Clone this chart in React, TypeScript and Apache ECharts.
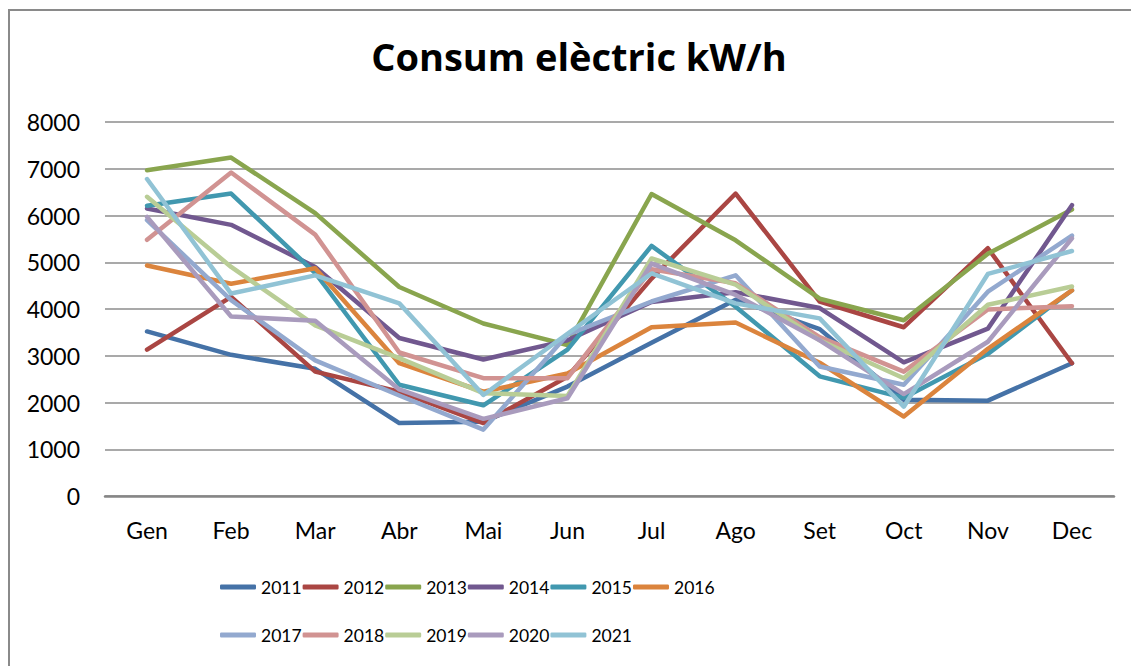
import React, { useEffect, useRef } from "react";
import * as echarts from "echarts";

const months = ["Gen", "Feb", "Mar", "Abr", "Mai", "Jun", "Jul", "Ago", "Set", "Oct", "Nov", "Dec"];
const years = ["2011", "2012", "2013", "2014", "2015", "2016", "2017", "2018", "2019", "2020", "2021"];
const colors = ["#4572A7", "#AA4643", "#89A54E", "#71588F", "#4198AF", "#DB843D", "#93A9CF", "#D19392", "#B9CD96", "#A99BBD", "#91C3D5"];

const v2011 = [3520, 3020, 2720, 1560, 1590, 2340, 3280, 4200, 3570, 2060, 2040, 2840];
const v2012 = [3130, 4260, 2660, 2230, 1560, 2550, 4650, 6470, 4160, 3610, 5300, 2840];
const v2013 = [6970, 7240, 6050, 4470, 3690, 3230, 6460, 5470, 4220, 3760, 5180, 6130];
const v2014 = [6150, 5800, 4900, 3380, 2920, 3330, 4150, 4360, 4020, 2860, 3580, 6220];
const v2015 = [6210, 6470, 4770, 2380, 1940, 3130, 5350, 4050, 2560, 2100, 3040, 4400];
const v2016 = [4930, 4540, 4870, 2840, 2230, 2620, 3610, 3710, 2850, 1700, 3150, 4400];
const v2017 = [5900, 4190, 2900, 2150, 1420, 3450, 4160, 4720, 2770, 2380, 4370, 5570];
const v2018 = [5480, 6920, 5590, 3070, 2520, 2520, 4850, 4550, 3400, 2660, 3990, 4060];
const v2019 = [6400, 4900, 3650, 2950, 2200, 2140, 5080, 4520, 3330, 2520, 4090, 4480];
const v2020 = [5970, 3840, 3750, 2280, 1650, 2090, 4970, 4300, 3330, 2180, 3300, 5510];
const v2021 = [6780, 4330, 4720, 4120, 2160, 3470, 4760, 4120, 3800, 1910, 4750, 5240];

const allValues = [v2011, v2012, v2013, v2014, v2015, v2016, v2017, v2018, v2019, v2020, v2021];

export default function App() {
  const ref = useRef<HTMLDivElement>(null);
  useEffect(() => {
    if (!ref.current) return;
    const chart = echarts.init(ref.current, undefined, { renderer: "svg" });
    const legendBase = {
      left: 215,
      itemWidth: 36,
      itemHeight: 5,
      itemGap: 1,
      icon: "roundRect",
      textStyle: { fontFamily: "Lato", fontSize: 17.5, color: "#000" },
    };
    chart.setOption({
      animation: false,
      backgroundColor: "#fff",
      color: colors,
      title: {
        text: "Consum elèctric kW/h",
        left: 574,
        top: 32,
        textAlign: "center",
        textStyle: { fontFamily: "'Open Sans'", fontWeight: "bold", fontSize: 38, color: "#000" },
      },
      graphic: [
        {
          type: "rect",
          shape: { x: 9, y: 10, width: 1200, height: 800 },
          style: { fill: "none", stroke: "#8a8a8a", lineWidth: 2 },
          silent: true,
        },
      ],
      legend: [
        { ...legendBase, data: years.slice(0, 6), top: 573 },
        { ...legendBase, data: years.slice(6), top: 621 },
      ],
      grid: { left: 105, right: 17, top: 122, bottom: 170, containLabel: false },
      xAxis: {
        type: "category",
        data: months,
        boundaryGap: true,
        axisLine: { lineStyle: { color: "#868686", width: 2.5 } },
        axisTick: { show: false },
        axisLabel: { fontFamily: "Lato", fontSize: 23, color: "#000", margin: 22 },
      },
      yAxis: {
        type: "value",
        min: 0,
        max: 8000,
        interval: 1000,
        axisLine: { show: false },
        axisTick: { show: false },
        splitLine: { lineStyle: { color: "#8c8c8c", width: 1.5 } },
        axisLabel: { fontFamily: "Lato", fontSize: 23, color: "#000", margin: 25, formatter: (v: number) => String(v) },
      },
      series: years.map((y, i) => ({
        name: y,
        type: "line",
        data: allValues[i],
        symbol: "none",
        showSymbol: false,
        lineStyle: { width: 4.5, color: colors[i], cap: "round", join: "round" },
        itemStyle: { color: colors[i] },
      })),
    });
    return () => chart.dispose();
  }, []);
  return <div ref={ref} style={{ position: "absolute", left: 0, top: 0, width: 1131, height: 666 }} />;
}
